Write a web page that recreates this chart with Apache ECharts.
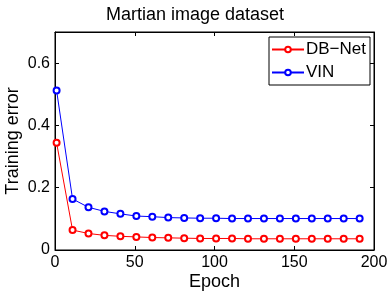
<!DOCTYPE html>
<html><head><meta charset="utf-8">
<script src="https://cdn.jsdelivr.net/npm/echarts@6/dist/echarts.min.js"></script>
<style>html,body{margin:0;padding:0;background:#fff}#c{width:390px;height:293px}</style>
</head><body><div id="c"></div>
<script>
const epochs = [1,11,21,31,41,51,61,71,81,91,101,111,121,131,141,151,161,171,181,191];
const dbnet = [0.344,0.064,0.053,0.047,0.044,0.042,0.040,0.039,0.038,0.037,0.037,0.037,0.036,0.036,0.036,0.036,0.036,0.036,0.036,0.036];
const vin = [0.512,0.164,0.137,0.124,0.116,0.109,0.107,0.104,0.103,0.102,0.102,0.101,0.101,0.101,0.101,0.101,0.101,0.101,0.101,0.101];
const xTicks = [0,50,100,150,200];
const yTicks = [0,0.2,0.4,0.6];

const font = 'Liberation Sans, Arial, Helvetica, sans-serif';
const chart = echarts.init(document.getElementById('c'), null, {renderer:'canvas'});
const axLine = {show:true, onZero:false, lineStyle:{color:'#000', width:1}};
const tick = {show:true, inside:true, length:4, lineStyle:{color:'#000', width:1}};
chart.setOption({
  animation:false,
  backgroundColor:'#fff',
  title:{text:'Martian image dataset', left:'center', top:1,
    textStyle:{fontFamily:font, fontSize:18, fontWeight:'normal', color:'#000'}},
  grid:{left:55, right:16, top:32, bottom:43, containLabel:false, outerBoundsMode:'none',
    show:true, borderColor:'#000', borderWidth:1, backgroundColor:'transparent'},
  legend:{orient:'vertical', right:20, top:37, borderColor:'#000', borderWidth:1,
    padding:[4,4,4,2], itemGap:6, itemWidth:32, itemHeight:7,
    backgroundColor:'#fff',
    textStyle:{fontFamily:font, fontSize:17, color:'#000', padding:[0,0,0,-3]},
    data:['DB\u2212Net','VIN']},
  xAxis:[
    {type:'value', min:0, max:200, interval:50, name:'Epoch', nameLocation:'middle', nameGap:23,
     nameMoveOverlap:false,
     nameTextStyle:{fontFamily:font, fontSize:18, color:'#000'},
     axisLine:axLine, axisTick:tick, splitLine:{show:false},
     axisLabel:{fontFamily:font, fontSize:16, color:'#000', margin:5,
       formatter:v=>xTicks.includes(v)?String(v):''}},
    {type:'value', min:0, max:200, interval:50, position:'top', show:true,
     axisLine:axLine, axisTick:tick, splitLine:{show:false}, axisLabel:{show:false}}
  ],
  yAxis:[
    {type:'value', min:0, max:0.7, interval:0.2, name:'Training error', nameLocation:'middle', nameGap:33,
     nameMoveOverlap:false,
     nameTextStyle:{fontFamily:font, fontSize:18, color:'#000'},
     axisLine:axLine, axisTick:tick, splitLine:{show:false},
     axisLabel:{fontFamily:font, fontSize:16, color:'#000', margin:5,
       formatter:v=>yTicks.some(t=>Math.abs(t-v)<1e-9)?(v===0?'0':String(+v.toFixed(1))):''}},
    {type:'value', min:0, max:0.7, interval:0.2, position:'right', show:true,
     axisLine:axLine, axisTick:tick, splitLine:{show:false}, axisLabel:{show:false}}
  ],
  series:[
    {name:'DB\u2212Net', type:'line', data:epochs.map((e,i)=>[e,dbnet[i]]),
     color:'#ff0000', symbol:'emptyCircle', symbolSize:6,
     lineStyle:{width:1, color:'#ff0000'}, itemStyle:{color:'#ff0000', borderWidth:1}},
    {name:'VIN', type:'line', data:epochs.map((e,i)=>[e,vin[i]]),
     color:'#0000ff', symbol:'emptyCircle', symbolSize:6,
     lineStyle:{width:1, color:'#0000ff'}, itemStyle:{color:'#0000ff', borderWidth:1}},
    {name:'_frame', type:'line', xAxisIndex:1, yAxisIndex:1, data:[], silent:true,
     symbol:'none', lineStyle:{opacity:0}}
  ]
});
</script></body></html>
